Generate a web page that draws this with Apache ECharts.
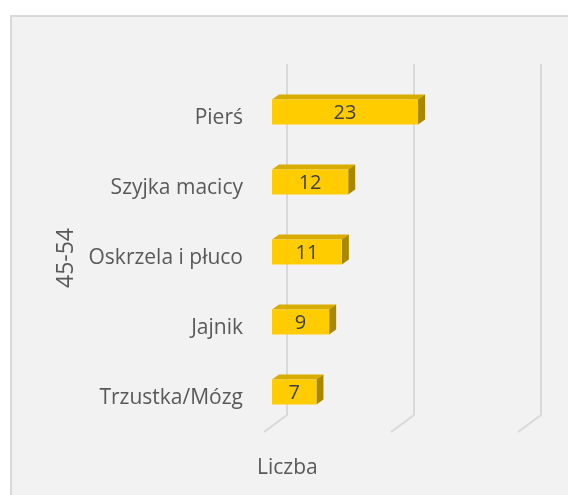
<!DOCTYPE html>
<html>
<head>
<meta charset="utf-8">
<script src="https://cdn.jsdelivr.net/npm/echarts@6/dist/echarts.min.js"></script>
<style>
html,body{margin:0;padding:0;background:#ffffff;overflow:hidden;width:568px;height:495px;}
#main{width:720px;height:495px;}
</style>
</head>
<body>
<div id="main"></div>
<script>
var categories = ['Pierś', 'Szyjka macicy', 'Oskrzela i płuco', 'Jajnik', 'Trzustka/Mózg'];
var values = [23, 12, 11, 9, 7];
var xTicks = [0, 20, 40, 60];
var groupLabel = '45-54';
var axisTitle = 'Liczba';

var FONT = '"Open Sans"';
var chart = echarts.init(document.getElementById('main'), null, {renderer: 'canvas'});

var DX = 7, DY = -5;          // bar top-face depth offset
var BAR_H = 25;

var option = {
  backgroundColor: '#ffffff',
  animation: false,
  graphic: [
    {type: 'rect', z: -10, left: 10, top: 15, shape: {width: 760, height: 540},
     style: {fill: '#f2f2f2', stroke: '#d9d9d9', lineWidth: 2}},
    {type: 'text', left: 257, top: 458, z: 10,
     style: {text: axisTitle, font: '21px ' + FONT, fill: '#595959'}},
    {type: 'text', x: 66, y: 258, rotation: Math.PI / 2, z: 10,
     style: {text: groupLabel, font: '23px ' + FONT, fill: '#595959', align: 'center', verticalAlign: 'middle'}}
  ],
  grid: {left: 272, top: 77, width: 381, height: 350, containLabel: false},
  xAxis: {
    type: 'value', min: 0, max: 60, interval: 20,
    axisLine: {show: false}, axisTick: {show: false}, axisLabel: {show: false},
    splitLine: {show: false}
  },
  yAxis: {
    type: 'category', data: categories, inverse: true,
    axisLine: {show: false}, axisTick: {show: false},
    axisLabel: {margin: 29, fontFamily: 'Open Sans', fontSize: 21, color: '#595959',
                verticalAlign: 'top', lineHeight: 12}
  },
  series: [
    {
      type: 'custom', z: 1,
      data: xTicks,
      renderItem: function (params, api) {
        var v = api.value(0);
        var x = api.coord([v, 0])[0];
        var cs = params.coordSys;
        var top = cs.y - 13, bottom = cs.y + cs.height - 12;
        return {
          type: 'polyline',
          shape: {points: [[x + 15, top], [x + 15, bottom], [x - 8, bottom + 17]]},
          style: {stroke: '#d9d9d9', lineWidth: 2, fill: null}
        };
      }
    },
    {
      type: 'custom', z: 5,
      data: values.map(function (v, i) { return [v, i]; }),
      renderItem: function (params, api) {
        var p0 = api.coord([0, api.value(1)]);
        var p1 = api.coord([api.value(0), api.value(1)]);
        var y0 = p0[1] - BAR_H / 2, y1 = p0[1] + BAR_H / 2;
        var x0 = p0[0], x1 = p1[0];
        return {
          type: 'group',
          children: [
            {type: 'polygon', shape: {points: [[x0, y0], [x0 + DX, y0 + DY], [x1 + DX, y0 + DY], [x1, y0]]},
             style: {fill: '#d9ac00'}},
            {type: 'polygon', shape: {points: [[x1, y0], [x1 + DX, y0 + DY], [x1 + DX, y1 + DY], [x1, y1]]},
             style: {fill: '#a98700'}},
            {type: 'rect', shape: {x: x0, y: y0, width: x1 - x0, height: BAR_H},
             style: {fill: '#ffcc00'}},
            {type: 'text', style: {text: String(api.value(0)), x: (x0 + x1) / 2, y: p0[1] + 1,
             align: 'center', verticalAlign: 'middle', font: '20px ' + FONT, fill: '#404040'}}
          ]
        };
      }
    }
  ]
};
chart.setOption(option);
</script>
</body>
</html>
